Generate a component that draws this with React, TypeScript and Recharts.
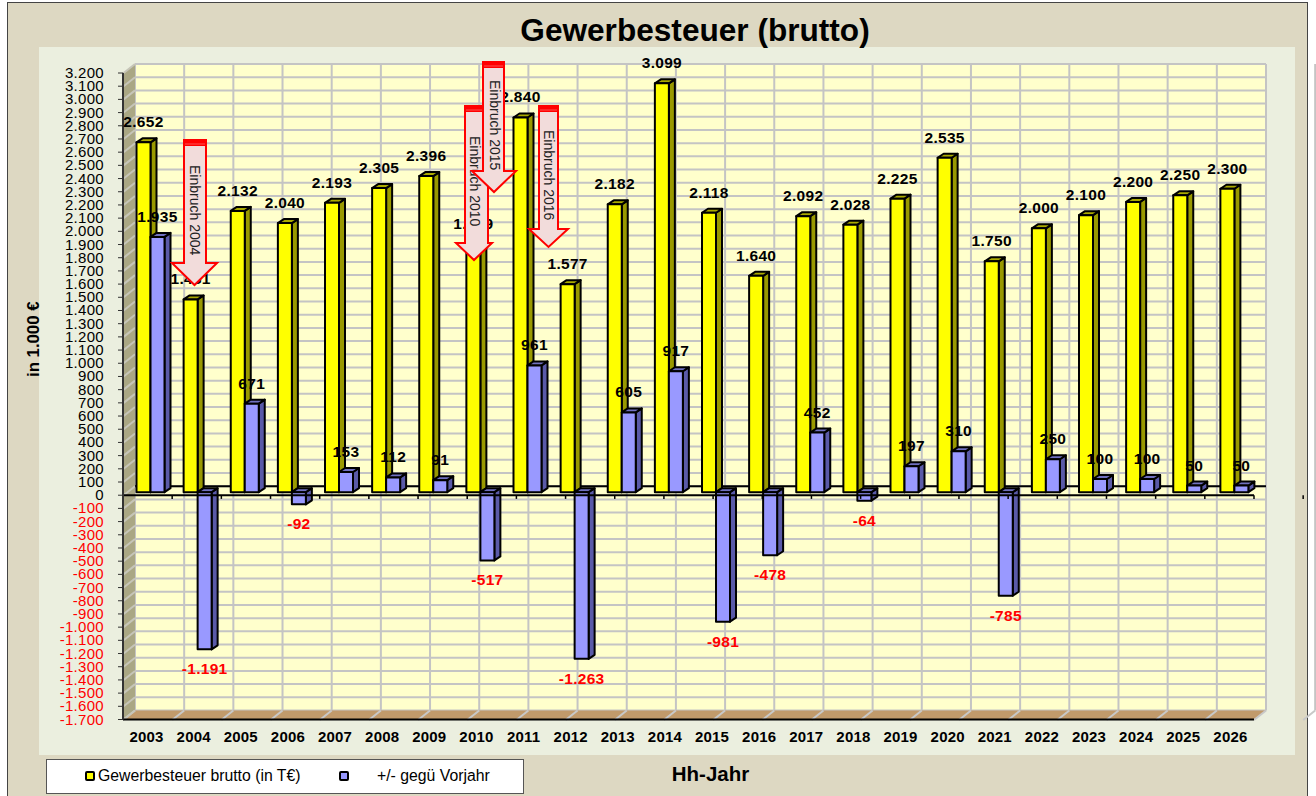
import React from 'react';
import { ComposedChart, Bar, XAxis, YAxis, CartesianGrid, LabelList, Legend, ReferenceArea, ReferenceLine } from 'recharts';

const years = ['2003', '2004', '2005', '2006', '2007', '2008', '2009', '2010', '2011', '2012', '2013', '2014', '2015', '2016', '2017', '2018', '2019', '2020', '2021', '2022', '2023', '2024', '2025', '2026'];
const brutto = [2652, 1461, 2132, 2040, 2193, 2305, 2396, 1879, 2840, 1577, 2182, 3099, 2118, 1640, 2092, 2028, 2225, 2535, 1750, 2000, 2100, 2200, 2250, 2300];
const delta = [1935, -1191, 671, -92, 153, 112, 91, -517, 961, -1263, 605, 917, -981, -478, 452, -64, 197, 310, -785, 250, 100, 100, 50, 50];
const yTicks = [3200, 3100, 3000, 2900, 2800, 2700, 2600, 2500, 2400, 2300, 2200, 2100, 2000, 1900, 1800, 1700, 1600, 1500, 1400, 1300, 1200, 1100, 1000, 900, 800, 700, 600, 500, 400, 300, 200, 100, 0, -100, -200, -300, -400, -500, -600, -700, -800, -900, -1000, -1100, -1200, -1300, -1400, -1500, -1600, -1700];
const edgeTicks = [0, 1, 2, 3, 4, 5, 6, 7, 8, 9, 10, 11, 12, 13, 14, 15, 16, 17, 18, 19, 20, 21, 22, 23, 24];

const data = years.map((year, i) => ({ year, brutto: brutto[i], delta: delta[i] }));

const FONT = '"Liberation Sans", Arial, sans-serif';
const W = 1316;
const H = 796;
const DEPTH_X = 12;
const DEPTH_Y = 9.5;
const MARGIN = { top: 73, right: 62, bottom: 46.5, left: 63 };

const fmt = (v: number) => {
  const s = Math.abs(v).toString().replace(/\B(?=(\d{3})+$)/g, '.');
  return v < 0 ? `-${s}` : s;
};

// bars sit a little behind the front plane of the fake 3D box
const Box = (props: any) => {
  const { x, y, width, height, fill, side, top } = props;
  const dx = 6;
  const dy = 4;
  const l = x + 3.5;
  const r = l + width;
  const t = Math.min(y, y + height) - 3;
  const b = Math.max(y, y + height) - 3;
  return (
    <g stroke="#000" strokeWidth={2} strokeLinejoin="round">
      <polygon points={`${r},${t} ${r + dx},${t - dy} ${r + dx},${b - dy} ${r},${b}`} fill={side} />
      <polygon points={`${l},${t} ${l + dx},${t - dy} ${r + dx},${t - dy} ${r},${t}`} fill={top} />
      <rect x={l} y={t} width={width} height={b - t} fill={fill} />
    </g>
  );
};

const BarValue = (props: any) => {
  const { x, y, width, height, value } = props;
  const neg = value < 0;
  const edge = neg ? Math.max(y, y + height) : Math.min(y, y + height);
  return (
    <text x={x + width / 2 + 3.5} y={edge + (neg ? 22 : -18)} textAnchor="middle" fontFamily={FONT} fontSize={15.5} letterSpacing={0.3} fontWeight="bold" fill={neg ? '#ff0000' : '#000'}>
      {fmt(value)}
    </text>
  );
};

const ValueTick = (props: any) => {
  const { x, y, payload } = props;
  return (
    <text x={x} y={y + 5} textAnchor="end" fontFamily={FONT} fontSize={15} letterSpacing={0.3} fill={payload.value < 0 ? '#ff0000' : '#000'}>
      {fmt(payload.value)}
    </text>
  );
};

const YearTick = (props: any) => {
  const { x, y, payload } = props;
  return (
    <text x={x} y={y + 5} textAnchor="middle" fontFamily={FONT} fontSize={15} letterSpacing={0.2} fontWeight="bold" fill="#000">
      {payload.value}
    </text>
  );
};

const WallTick = (props: any) => (
  <line x1={props.x} y1={props.y} x2={props.x - DEPTH_X} y2={props.y + DEPTH_Y} stroke="#c6c5b8" strokeWidth={2} />
);

const FloorTick = (props: any) => (
  <line x1={props.x} y1={props.y} x2={props.x - DEPTH_X} y2={props.y + DEPTH_Y} stroke="#c8c8c8" strokeWidth={2} />
);

const Walls = (props: any) => {
  const { x, y, width, height } = props;
  const b = y + height;
  const r = x + width;
  return (
    <g>
      <polygon points={`${x},${y} ${x - DEPTH_X},${y + DEPTH_Y} ${x - DEPTH_X},${b + DEPTH_Y} ${x},${b}`} fill="#aaa784" />
      <polygon points={`${x},${b} ${x - DEPTH_X},${b + DEPTH_Y} ${r - DEPTH_X},${b + DEPTH_Y} ${r},${b}`} fill="#c19a6b" />
    </g>
  );
};

const LegendBox = () => (
  <div style={{ position: 'relative', width: 478, height: 0, fontFamily: FONT, fontSize: 15.8, color: '#000' }}>
    <div style={{ position: 'absolute', left: 0, top: 0, width: 476, height: 33, background: '#fff', border: '1.5px solid #555' }} />
    <div style={{ position: 'absolute', left: 39, top: 12, width: 6, height: 6, background: '#ffff00', border: '2.5px solid #000', borderRadius: 2 }} />
    <div style={{ position: 'absolute', left: 52, top: 8, whiteSpace: 'nowrap' }}>Gewerbesteuer brutto (in T€)</div>
    <div style={{ position: 'absolute', left: 293, top: 12, width: 6, height: 6, background: '#9999ff', border: '2.5px solid #000', borderRadius: 2 }} />
    <div style={{ position: 'absolute', left: 331, top: 8, whiteSpace: 'nowrap' }}>+/- gegü Vorjahr</div>
  </div>
);

const arrows = [
  { text: 'Einbruch 2004', left: 184, right: 206, top: 140, neck: 263, headL: 172, headR: 217, tip: 285, textAt: 165 },
  { text: 'Einbruch 2010', left: 465, right: 488, top: 106, neck: 243, headL: 456, headR: 492, tip: 260, textAt: 136 },
  { text: 'Einbruch 2015', left: 483, right: 504, top: 62, neck: 171, headL: 472, headR: 516, tip: 192, textAt: 80 },
  { text: 'Einbruch 2016', left: 539, right: 558, top: 106, neck: 229, headL: 529, headR: 568, tip: 247, textAt: 130 },
];

const Arrows = () => (
  <svg width={W} height={H} style={{ position: 'absolute', left: 0, top: 0, pointerEvents: 'none' }}>
    {arrows.map((a) => {
      const cx = (a.headL + a.headR) / 2;
      return (
        <g key={a.text}>
          <polygon
            points={`${a.left},${a.top} ${a.right},${a.top} ${a.right},${a.neck} ${a.headR},${a.neck} ${cx},${a.tip} ${a.headL},${a.neck} ${a.left},${a.neck}`}
            fill="#f2dcdb"
            stroke="#ff0000"
            strokeWidth={2}
          />
          <rect x={a.left} y={a.top} width={a.right - a.left} height={6} fill="#ff0000" />
          <rect x={a.left + 1} y={a.top + 3.5} width={a.right - a.left - 2} height={1} fill="#ff5050" />
          <text transform={`translate(${cx - 4.5},${a.textAt}) rotate(90)`} fontFamily={FONT} fontSize={14} fill="#222">
            {a.text}
          </text>
        </g>
      );
    })}
  </svg>
);

export default function App() {
  return (
    <div style={{ position: 'absolute', left: 0, top: 0, width: W, height: H, overflow: 'hidden', background: '#fff' }}>
      <div style={{ position: 'absolute', left: 7, top: 2, width: 1298.5, height: 800, background: '#ddd8c2', border: '1.5px solid #444' }} />
      <div style={{ position: 'absolute', left: 39, top: 47, width: 1256, height: 708, background: '#ebefdf' }} />
      <div style={{ position: 'absolute', left: 0, top: 12, width: 1390, textAlign: 'center', fontFamily: FONT, fontSize: 31.6, fontWeight: 'bold', color: '#000' }}>
        Gewerbesteuer (brutto)
      </div>

      {/* back wall: same plot box, pushed up and right */}
      <div style={{ position: 'absolute', left: DEPTH_X, top: -DEPTH_Y }}>
        <ComposedChart width={W} height={H} data={data} margin={MARGIN}>
          <ReferenceArea yAxisId="v" xAxisId="e" y1={-1700} y2={3200} ifOverflow="visible" shape={<Walls />} fill="none" />
          <CartesianGrid xAxisId="e" yAxisId="v" stroke="#c4c4c4" strokeWidth={2} fill="#ffffcc" fillOpacity={1} syncWithTicks />
          <XAxis xAxisId="e" type="number" domain={[0, 24]} ticks={edgeTicks} interval={0} height={30} tickSize={0} tickMargin={0} axisLine={false} tickLine={false} tick={<FloorTick />} allowDataOverflow />
          <YAxis yAxisId="v" type="number" domain={[-1700, 3200]} ticks={yTicks} interval={0} width={60} tickSize={0} tickMargin={0} axisLine={false} tickLine={false} tick={<WallTick />} allowDataOverflow />
          <ReferenceLine yAxisId="v" xAxisId="e" y={0} stroke="#000" strokeWidth={2} />
        </ComposedChart>
      </div>

      <div style={{ position: 'absolute', left: 0, top: 0 }}>
        <ComposedChart width={W} height={H} data={data} margin={MARGIN} barGap={0} barCategoryGap="35%">
          <XAxis
            dataKey="year"
            interval={0}
            height={30}
            tickSize={0}
            tickMargin={17}
            axisLine={{ stroke: '#000', strokeWidth: 2 }}
            tickLine={false}
            tick={<YearTick />}
            label={{ value: 'Hh-Jahr', position: 'bottom', offset: 17, dx: 22, style: { fontFamily: FONT, fontSize: 20.5, fontWeight: 'bold', fill: '#000' } }}
          />
          <XAxis xAxisId="e" type="number" domain={[0, 24]} hide allowDataOverflow />
          <YAxis
            domain={[-1700, 3200]}
            ticks={yTicks}
            interval={0}
            width={60}
            tickSize={5}
            tickMargin={14}
            axisLine={{ stroke: '#333', strokeWidth: 2 }}
            tickLine={{ stroke: '#333' }}
            tick={<ValueTick />}
            label={{ value: 'in 1.000 €', angle: -90, position: 'insideLeft', dx: -35, dy: -57, style: { fontFamily: FONT, fontSize: 16.8, fontWeight: 'bold', fill: '#000', textAnchor: 'middle' } }}
          />
          <ReferenceLine y={0} stroke="#000" strokeWidth={2} />
          {edgeTicks.map((e) => (
            <ReferenceLine key={e} xAxisId="e" segment={[{ x: e, y: 0 }, { x: e, y: -28 }]} stroke="#000" strokeWidth={1.5} ifOverflow="visible" />
          ))}
          <Legend content={<LegendBox />} wrapperStyle={{ left: 46, top: 759, width: 478, height: 0 }} />
          <Bar dataKey="brutto" barSize={14} isAnimationActive={false} fill="#ffff00" shape={<Box side="#999900" top="#aaaa00" />}>
            <LabelList dataKey="brutto" content={<BarValue />} />
          </Bar>
          <Bar dataKey="delta" barSize={14} isAnimationActive={false} fill="#9999ff" shape={<Box side="#5a5aa8" top="#7070c0" />}>
            <LabelList dataKey="delta" content={<BarValue />} />
          </Bar>
        </ComposedChart>
      </div>

      <Arrows />
    </div>
  );
}
